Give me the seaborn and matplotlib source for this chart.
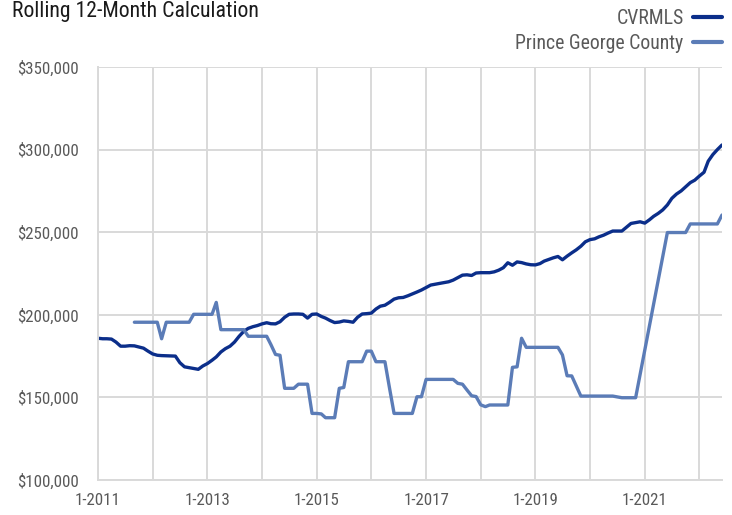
import pandas as pd
import numpy as np
import matplotlib
matplotlib.use("Agg")
import matplotlib.pyplot as plt
import matplotlib.dates as mdates
from matplotlib.ticker import FuncFormatter
import seaborn as sns

# monthly values, Jan 2011 .. Jun 2022 (in $1,000)
start_month = "2011-01-01"
cvrmls = [
    185.8, 185.5, 185.5, 185.3, 183.5, 181.0, 181.0, 181.3, 181.2, 180.5, 179.8, 178.0,  # 2011
    176.3, 175.5, 175.3, 175.2, 175.1, 175.0, 171.0, 168.5, 168.0, 167.5, 167.0, 169.0,  # 2012
    170.5, 172.5, 174.5, 177.5, 179.5, 181.0, 183.5, 187.0, 190.0, 191.8, 192.8, 193.5,  # 2013
    194.5, 195.2, 194.6, 194.5, 195.8, 198.5, 200.3, 200.5, 200.5, 200.3, 198.0, 200.3,  # 2014
    200.5, 199.0, 198.0, 196.5, 195.3, 195.6, 196.3, 196.0, 195.5, 198.5, 200.5, 200.7,  # 2015
    201.0, 203.5, 205.2, 205.8, 207.5, 209.5, 210.3, 210.5, 211.5, 212.6, 213.8, 215.0,  # 2016
    216.5, 218.0, 218.5, 219.0, 219.5, 220.0, 221.0, 222.5, 224.0, 224.2, 223.8, 225.3,  # 2017
    225.5, 225.5, 225.5, 226.0, 227.0, 228.5, 231.5, 230.0, 232.0, 231.6, 230.8, 230.3,  # 2018
    230.2, 231.0, 232.5, 233.5, 234.5, 235.3, 233.3, 235.5, 237.5, 239.3, 241.5, 244.2,  # 2019
    245.5, 246.0, 247.2, 248.2, 249.5, 250.7, 250.7, 250.7, 253.0, 255.3, 255.8, 256.3,  # 2020
    255.5, 257.5, 259.6, 261.4, 263.5, 266.5, 270.5, 273.1, 275.0, 277.5, 280.0, 281.5,  # 2021
    284.0, 286.3, 293.0, 297.0, 300.0, 302.8,                                            # 2022
]
nan = np.nan
prince_george = [
    nan, nan, nan, nan, nan, nan, nan, nan, 195.5, 195.5, 195.5, 195.5,                  # 2011
    195.5, 195.5, 185.5, 195.5, 195.5, 195.5, 195.5, 195.5, 195.5, 200.3, 200.3, 200.3,  # 2012
    200.3, 200.3, 207.5, 191.0, 191.0, 191.0, 191.0, 191.0, 191.0, 187.0, 187.0, 187.0,  # 2013
    187.0, 187.0, 182.0, 176.0, 175.5, 155.5, 155.5, 155.5, 158.0, 158.0, 158.0, 140.3,  # 2014
    140.3, 140.0, 137.7, 137.7, 137.7, 155.5, 156.0, 171.6, 171.6, 171.6, 171.6, 178.0,  # 2015
    178.0, 171.6, 171.6, 171.6, 156.0, 140.3, 140.3, 140.3, 140.3, 140.3, 150.4, 150.4,  # 2016
    160.9, 160.9, 160.9, 160.9, 160.9, 160.9, 160.9, 158.5, 158.0, 154.5, 151.0, 150.5,  # 2017
    145.5, 144.4, 145.4, 145.4, 145.4, 145.4, 145.4, 168.2, 168.5, 185.8, 180.3, 180.3,  # 2018
    180.3, 180.3, 180.3, 180.3, 180.3, 180.3, 175.7, 163.1, 163.0, 157.0, 150.8, 150.8,  # 2019
    150.8, 150.8, 150.8, 150.8, 150.8, 150.8, 150.3, 149.8, 149.8, 149.8, 149.8, nan,    # 2020
    nan, nan, nan, nan, nan, 249.8, 249.8, 249.8, 249.8, 249.8, 255.0, 255.0,            # 2021
    255.0, 255.0, 255.0, 255.0, 255.0, 260.4,                                            # 2022
]
series_names = ["CVRMLS", "Prince George County"]
series_colors = ["#0B2E8A", "#5B7CB7"]
title = "Rolling 12-Month Calculation"

months = pd.date_range(start_month, periods=len(cvrmls), freq="MS")
df = pd.concat([
    pd.DataFrame({"month": months, "price": np.array(cvrmls) * 1000, "area": series_names[0]}),
    pd.DataFrame({"month": months, "price": np.array(prince_george) * 1000, "area": series_names[1]}),
]).dropna()

sns.set_style("white")
plt.rcParams['font.family'] = ['Roboto Condensed', 'Liberation Sans Narrow', 'Liberation Sans', 'DejaVu Sans']

fig = plt.figure(figsize=(7.32, 5.15), dpi=100)
ax = fig.add_axes([98 / 732, 1 - 480 / 515, 624 / 732, 413 / 515])

sns.lineplot(data=df, x="month", y="price", hue="area", hue_order=series_names,
             palette=dict(zip(series_names, series_colors)), linewidth=2.4,
             ax=ax, legend=False)

grid_col = "#D9D9D9"
ax.set_xlim(months[0], months[-1])
ax.set_ylim(100000, 350000)
ax.set_yticks(np.arange(100000, 350001, 50000))
ax.yaxis.set_major_formatter(FuncFormatter(lambda v, p: f"${v:,.0f}"))
ax.xaxis.set_major_locator(mdates.YearLocator(1))
ax.xaxis.set_major_formatter(FuncFormatter(
    lambda v, p: f"1-{mdates.num2date(v).year}" if (mdates.num2date(v).year - 2011) % 2 == 0 else ""))
ax.grid(True, color=grid_col, linewidth=1.4)
ax.set_axisbelow(True)
for side in ["top", "right"]:
    ax.spines[side].set_visible(False)
for side in ["left", "bottom"]:
    ax.spines[side].set_color(grid_col)
    ax.spines[side].set_linewidth(1.4)
ax.tick_params(axis="y", length=5.5, width=1.2, color=grid_col, pad=8.5, labelsize=12.2, labelcolor="#595959")
ax.tick_params(axis="x", length=4.5, width=1.2, color=grid_col, pad=5, labelsize=12.2, labelcolor="#595959")
ax.set_xlabel("")
ax.set_ylabel("")

fig.text(12 / 732, 1 - 12 / 515, title, fontsize=15.7, color="#1A1A1A", va="center", ha="left")

handles = [plt.Line2D([], [], color=c, linewidth=3) for c in series_colors]
fig.legend(handles, series_names, loc="upper right", bbox_to_anchor=(722 / 732, 1 - 8.5 / 515),
           frameon=False, markerfirst=False, fontsize=14.2, labelcolor="#595959",
           handlelength=1.45, handletextpad=0.5, borderpad=0, borderaxespad=0, labelspacing=0.35)

fig.savefig("out.png", dpi=100)
